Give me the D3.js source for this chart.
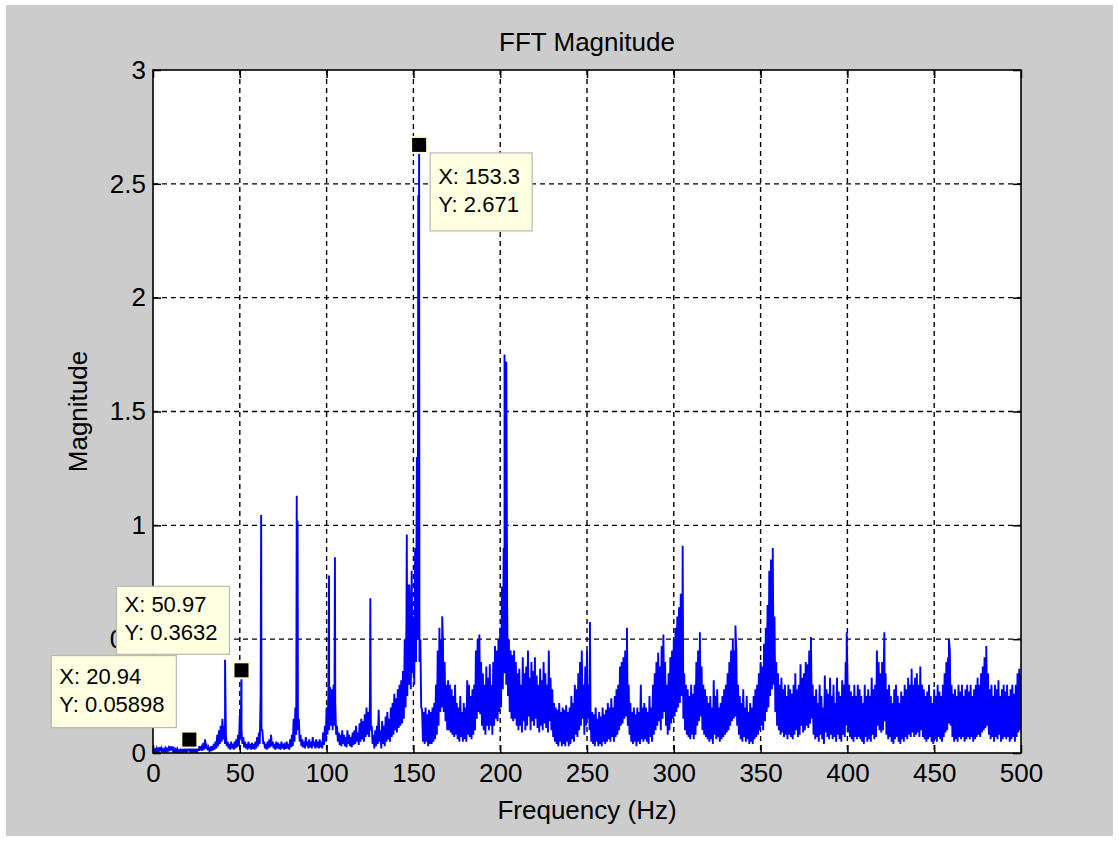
<!DOCTYPE html>
<html>
<head>
<meta charset="utf-8">
<script src="https://cdn.jsdelivr.net/npm/d3@7"></script>
<style>
  html, body { margin: 0; padding: 0; background: #ffffff; }
  text { font-family: Arial, "Liberation Sans", sans-serif; fill: #000; }
</style>
</head>
<body>
<div id="chart"></div>
<script>
var width = 1119, height = 841;

// tick values
var xTicks = [0, 50, 100, 150, 200, 250, 300, 350, 400, 450, 500];
var yTicks = [0, 0.5, 1, 1.5, 2, 2.5, 3];

// upper samples of the spectrum, one per Hz (0..500 Hz)
var magHi = [
  0.02,0.015,0.02,0.018,0.025,0.02,0.015,0.02,0.018,0.022,
  0.03,0.028,0.02,0.015,0.018,0.012,0.015,0.014,0.016,0.02,
  0.018,0.015,0.02,0.018,0.015,0.02,0.022,0.03,0.025,0.045,
  0.06,0.03,0.025,0.02,0.03,0.04,0.05,0.08,0.1,0.12,
  0.15,0.12,0.08,0.05,0.04,0.05,0.04,0.05,0.06,0.08,
  0.17,0.1,0.07,0.05,0.04,0.05,0.04,0.045,0.04,0.05,
  0.07,0.09,0.26,0.1,0.05,0.04,0.05,0.06,0.08,0.05,
  0.04,0.05,0.045,0.04,0.05,0.04,0.045,0.05,0.04,0.06,
  0.08,0.15,0.2,0.25,0.15,0.08,0.06,0.05,0.07,0.05,
  0.06,0.05,0.07,0.05,0.06,0.05,0.06,0.05,0.09,0.12,
  0.2,0.25,0.29,0.28,0.3,0.22,0.12,0.09,0.08,0.1,
  0.08,0.07,0.1,0.08,0.07,0.09,0.1,0.12,0.09,0.13,
  0.15,0.14,0.17,0.2,0.18,0.25,0.12,0.08,0.1,0.12,
  0.19,0.1,0.14,0.12,0.16,0.18,0.15,0.2,0.22,0.26,
  0.24,0.28,0.3,0.32,0.36,0.5,0.6,0.74,0.65,0.8,
  0.6,0.9,1.3,0.9,0.5,0.19,0.18,0.2,0.17,0.19,
  0.18,0.2,0.22,0.3,0.45,0.55,0.5,0.5,0.4,0.3,
  0.32,0.3,0.28,0.25,0.3,0.22,0.2,0.25,0.18,0.22,
  0.2,0.32,0.3,0.25,0.28,0.3,0.45,0.5,0.52,0.4,
  0.35,0.3,0.38,0.33,0.39,0.3,0.4,0.47,0.45,0.5,
  0.55,0.73,0.9,1.0,0.66,0.5,0.45,0.43,0.45,0.4,
  0.35,0.37,0.3,0.42,0.35,0.38,0.45,0.33,0.4,0.36,
  0.42,0.34,0.3,0.37,0.32,0.4,0.35,0.3,0.45,0.33,
  0.28,0.22,0.2,0.19,0.22,0.18,0.2,0.19,0.21,0.18,
  0.2,0.25,0.22,0.3,0.28,0.35,0.4,0.45,0.3,0.38,
  0.45,0.3,0.2,0.18,0.17,0.2,0.15,0.18,0.16,0.2,
  0.17,0.19,0.22,0.2,0.24,0.2,0.25,0.28,0.3,0.38,
  0.4,0.42,0.45,0.4,0.3,0.22,0.18,0.2,0.17,0.2,
  0.18,0.3,0.2,0.22,0.2,0.18,0.25,0.2,0.3,0.35,
  0.4,0.44,0.38,0.47,0.52,0.4,0.3,0.35,0.42,0.45,
  0.5,0.55,0.6,0.64,0.7,0.5,0.35,0.3,0.28,0.25,
  0.3,0.26,0.3,0.4,0.45,0.45,0.38,0.3,0.28,0.25,
  0.22,0.25,0.2,0.32,0.25,0.28,0.2,0.22,0.25,0.28,
  0.3,0.35,0.4,0.45,0.5,0.45,0.45,0.3,0.25,0.22,
  0.28,0.2,0.25,0.18,0.22,0.2,0.25,0.28,0.3,0.35,
  0.4,0.38,0.48,0.55,0.65,0.8,0.85,0.7,0.6,0.4,
  0.35,0.3,0.33,0.28,0.3,0.25,0.3,0.28,0.26,0.3,
  0.35,0.28,0.3,0.39,0.33,0.35,0.4,0.39,0.45,0.4,
  0.3,0.25,0.28,0.22,0.3,0.25,0.2,0.34,0.28,0.26,
  0.33,0.25,0.3,0.22,0.33,0.27,0.25,0.32,0.3,0.4,
  0.35,0.3,0.27,0.25,0.3,0.25,0.3,0.28,0.25,0.22,
  0.3,0.25,0.28,0.25,0.33,0.28,0.3,0.45,0.4,0.35,
  0.4,0.4,0.35,0.28,0.3,0.25,0.22,0.28,0.3,0.25,
  0.22,0.27,0.25,0.3,0.28,0.33,0.3,0.37,0.3,0.33,
  0.35,0.3,0.38,0.3,0.28,0.25,0.27,0.3,0.25,0.22,
  0.28,0.25,0.3,0.27,0.25,0.3,0.35,0.4,0.42,0.45,
  0.3,0.26,0.28,0.25,0.3,0.27,0.3,0.25,0.28,0.3,
  0.27,0.3,0.25,0.28,0.3,0.33,0.3,0.35,0.38,0.42,
  0.4,0.35,0.28,0.3,0.25,0.3,0.28,0.32,0.25,0.28,
  0.3,0.27,0.3,0.25,0.28,0.3,0.26,0.3,0.35,0.37,
  0.34
];

// lower samples, one per Hz, taken half a Hz after magHi
var magLo = [
  0.005,0.008,0.006,0.01,0.007,0.005,0.008,0.006,0.01,0.008,
  0.012,0.01,0.006,0.005,0.007,0.004,0.006,0.005,0.007,0.006,
  0.008,0.006,0.005,0.007,0.006,0.008,0.01,0.012,0.01,0.015,
  0.02,0.012,0.01,0.008,0.012,0.015,0.02,0.03,0.04,0.05,
  0.06,0.04,0.03,0.02,0.015,0.02,0.015,0.02,0.025,0.03,
  0.06,0.04,0.025,0.02,0.015,0.02,0.015,0.018,0.015,0.02,
  0.03,0.04,0.1,0.04,0.02,0.015,0.02,0.025,0.03,0.02,
  0.015,0.02,0.018,0.015,0.02,0.015,0.018,0.02,0.015,0.025,
  0.03,0.05,0.08,0.1,0.05,0.03,0.025,0.02,0.03,0.02,
  0.025,0.02,0.03,0.02,0.025,0.02,0.025,0.02,0.035,0.05,
  0.08,0.1,0.12,0.1,0.12,0.08,0.05,0.035,0.03,0.04,
  0.03,0.025,0.04,0.03,0.025,0.035,0.04,0.05,0.035,0.05,
  0.06,0.05,0.07,0.08,0.07,0.1,0.04,0.02,0.03,0.04,
  0.05,0.02,0.04,0.03,0.05,0.06,0.05,0.07,0.08,0.1,
  0.09,0.11,0.12,0.13,0.15,0.2,0.25,0.3,0.28,0.35,
  0.3,0.4,0.5,0.4,0.2,0.05,0.04,0.05,0.03,0.04,
  0.04,0.05,0.06,0.08,0.12,0.18,0.2,0.18,0.14,0.1,
  0.1,0.09,0.08,0.07,0.08,0.06,0.05,0.07,0.05,0.06,
  0.05,0.08,0.07,0.06,0.08,0.1,0.15,0.18,0.17,0.12,
  0.1,0.08,0.12,0.1,0.12,0.08,0.12,0.15,0.14,0.18,
  0.2,0.28,0.35,0.3,0.25,0.18,0.15,0.14,0.15,0.12,
  0.1,0.12,0.09,0.14,0.1,0.12,0.16,0.1,0.14,0.12,
  0.15,0.11,0.09,0.12,0.1,0.13,0.11,0.09,0.14,0.1,
  0.07,0.05,0.04,0.03,0.05,0.03,0.04,0.03,0.05,0.03,
  0.04,0.06,0.05,0.08,0.07,0.1,0.12,0.15,0.08,0.12,
  0.15,0.1,0.05,0.04,0.03,0.05,0.03,0.04,0.03,0.05,
  0.04,0.05,0.06,0.05,0.07,0.05,0.07,0.08,0.1,0.12,
  0.13,0.15,0.16,0.12,0.08,0.05,0.04,0.05,0.03,0.05,
  0.04,0.06,0.05,0.06,0.05,0.04,0.07,0.05,0.08,0.1,
  0.12,0.14,0.1,0.15,0.18,0.12,0.08,0.1,0.13,0.15,
  0.16,0.18,0.2,0.22,0.25,0.15,0.1,0.08,0.07,0.06,
  0.08,0.06,0.08,0.12,0.14,0.16,0.1,0.08,0.07,0.06,
  0.05,0.06,0.04,0.08,0.06,0.07,0.05,0.06,0.07,0.08,
  0.09,0.1,0.12,0.14,0.15,0.16,0.12,0.08,0.06,0.05,
  0.07,0.05,0.06,0.04,0.05,0.04,0.06,0.07,0.08,0.1,
  0.12,0.1,0.14,0.18,0.2,0.25,0.28,0.3,0.18,0.12,
  0.1,0.08,0.09,0.07,0.08,0.06,0.08,0.07,0.06,0.08,
  0.1,0.07,0.08,0.12,0.09,0.1,0.12,0.11,0.13,0.15,
  0.08,0.06,0.07,0.05,0.08,0.06,0.04,0.09,0.07,0.06,
  0.08,0.06,0.07,0.05,0.08,0.06,0.05,0.08,0.07,0.12,
  0.09,0.07,0.06,0.05,0.07,0.06,0.07,0.06,0.05,0.04,
  0.07,0.05,0.06,0.05,0.08,0.06,0.07,0.12,0.1,0.09,
  0.1,0.14,0.08,0.06,0.07,0.05,0.04,0.06,0.07,0.05,
  0.04,0.06,0.05,0.07,0.06,0.08,0.07,0.09,0.07,0.08,
  0.09,0.07,0.1,0.07,0.06,0.05,0.06,0.07,0.05,0.04,
  0.06,0.05,0.07,0.06,0.05,0.07,0.09,0.1,0.13,0.12,
  0.07,0.05,0.06,0.05,0.07,0.06,0.07,0.05,0.06,0.07,
  0.06,0.07,0.05,0.06,0.07,0.08,0.07,0.09,0.1,0.11,
  0.12,0.08,0.06,0.07,0.05,0.07,0.06,0.08,0.05,0.06,
  0.07,0.06,0.07,0.05,0.06,0.07,0.05,0.07,0.09,0.1
];

// narrow spectral lines [frequency, magnitude]
var spikes = [
  [20.94, 0.05898], [41.5, 0.41], [50.97, 0.3632], [62.3, 1.045],
  [82.8, 1.13], [83.3, 1.02], [101.4, 0.78], [104.8, 0.86],
  [125.2, 0.68], [146.2, 0.96], [147.6, 0.74], [152.8, 2.45],
  [153.3, 2.671], [166.6, 0.6], [202.5, 1.75], [203.5, 1.72],
  [251.7, 0.575], [273, 0.55], [305.1, 0.91], [315, 0.53],
  [335.5, 0.56], [357, 0.9], [379, 0.51], [399.6, 0.53],
  [421.3, 0.53], [458.5, 0.5], [480, 0.47]
];

// data tips shown on the figure
var tipX = [153.3, 50.97, 20.94];
var tipY = [2.671, 0.3632, 0.05898];
var tipLabelX = ["153.3", "50.97", "20.94"];
var tipLabelY = ["2.671", "0.3632", "0.05898"];

var margin = {left: 153, top: 70, right: 1021, bottom: 753};

var x = d3.scaleLinear().domain([0, 500]).range([margin.left, margin.right]);
var y = d3.scaleLinear().domain([0, 3]).range([margin.bottom, margin.top]);

var series = [];
magHi.forEach(function(v, i) { series.push([i, v]); });
magLo.forEach(function(v, i) { series.push([i + 0.5, v]); });
spikes.forEach(function(d) { series.push(d); });
series.sort(function(a, b) { return a[0] - b[0]; });

var svg = d3.select("#chart").append("svg")
  .attr("width", width)
  .attr("height", height);

svg.append("rect")
  .attr("x", 6).attr("y", 5)
  .attr("width", 1107).attr("height", 831)
  .attr("fill", "#cccccc");

svg.append("rect")
  .attr("x", margin.left).attr("y", margin.top)
  .attr("width", margin.right - margin.left)
  .attr("height", margin.bottom - margin.top)
  .attr("fill", "#ffffff");

svg.append("clipPath").attr("id", "plotclip")
  .append("rect")
  .attr("x", margin.left).attr("y", margin.top)
  .attr("width", margin.right - margin.left)
  .attr("height", margin.bottom - margin.top);

// grid
var grid = svg.append("g");
grid.selectAll(".gx")
  .data(xTicks.slice(1, -1))
  .enter().append("line")
  .attr("x1", function(d) { return x(d); })
  .attr("x2", function(d) { return x(d); })
  .attr("y1", margin.top).attr("y2", margin.bottom)
  .attr("stroke", "#000").attr("stroke-width", 1.4)
  .attr("stroke-dasharray", "5,4");
grid.selectAll(".gy")
  .data(yTicks.slice(1, -1))
  .enter().append("line")
  .attr("y1", function(d) { return y(d); })
  .attr("y2", function(d) { return y(d); })
  .attr("x1", margin.left).attr("x2", margin.right)
  .attr("stroke", "#000").attr("stroke-width", 1.4)
  .attr("stroke-dasharray", "5,4");

// spectrum
var line = d3.line()
  .x(function(d) { return x(d[0]); })
  .y(function(d) { return y(d[1]); });

svg.append("path")
  .datum(series)
  .attr("clip-path", "url(#plotclip)")
  .attr("d", line)
  .attr("fill", "none")
  .attr("stroke", "#0000ff")
  .attr("stroke-width", 1.9)
  .attr("stroke-linejoin", "miter");

// axes, ticks pointing inward on all four sides
var tickLen = 8;
var fontSize = "26px";
var fontFam = "Arial, 'Liberation Sans', sans-serif";

svg.append("g")
  .attr("transform", "translate(0," + margin.bottom + ")")
  .call(d3.axisBottom(x).tickValues(xTicks).tickSizeInner(-tickLen).tickSizeOuter(0).tickPadding(11))
  .call(function(g) {
    g.select(".domain").remove();
    g.selectAll("line").attr("stroke", "#000").attr("stroke-width", 1.5);
    g.selectAll("text").attr("font-size", fontSize).attr("font-family", fontFam);
  });

svg.append("g")
  .attr("transform", "translate(0," + margin.top + ")")
  .call(d3.axisTop(x).tickValues(xTicks).tickSizeInner(-tickLen).tickSizeOuter(0).tickFormat(""))
  .call(function(g) {
    g.select(".domain").remove();
    g.selectAll("line").attr("stroke", "#000").attr("stroke-width", 1.5);
  });

svg.append("g")
  .attr("transform", "translate(" + margin.left + ",0)")
  .call(d3.axisLeft(y).tickValues(yTicks).tickSizeInner(-tickLen).tickSizeOuter(0).tickPadding(7).tickFormat(d3.format("")))
  .call(function(g) {
    g.select(".domain").remove();
    g.selectAll("line").attr("stroke", "#000").attr("stroke-width", 1.5);
    g.selectAll("text").attr("font-size", fontSize).attr("font-family", fontFam);
  });

svg.append("g")
  .attr("transform", "translate(" + margin.right + ",0)")
  .call(d3.axisRight(y).tickValues(yTicks).tickSizeInner(-tickLen).tickSizeOuter(0).tickFormat(""))
  .call(function(g) {
    g.select(".domain").remove();
    g.selectAll("line").attr("stroke", "#000").attr("stroke-width", 1.5);
  });

svg.append("rect")
  .attr("x", margin.left).attr("y", margin.top)
  .attr("width", margin.right - margin.left)
  .attr("height", margin.bottom - margin.top)
  .attr("fill", "none")
  .attr("stroke", "#000")
  .attr("stroke-width", 1.6);

// titles
svg.append("text")
  .attr("x", (margin.left + margin.right) / 2)
  .attr("y", 51)
  .attr("text-anchor", "middle")
  .attr("font-size", fontSize)
  .text("FFT Magnitude");

svg.append("text")
  .attr("x", (margin.left + margin.right) / 2)
  .attr("y", 819)
  .attr("text-anchor", "middle")
  .attr("font-size", fontSize)
  .text("Frequency (Hz)");

svg.append("text")
  .attr("transform", "translate(87," + ((margin.top + margin.bottom) / 2) + ") rotate(-90)")
  .attr("text-anchor", "middle")
  .attr("font-size", fontSize)
  .text("Magnitude");

// data tip markers
svg.selectAll(".marker")
  .data(tipX)
  .enter().append("rect")
  .attr("x", function(d) { return x(d) - 8; })
  .attr("y", function(d, i) { return y(tipY[i]) - 8; })
  .attr("width", 16).attr("height", 16)
  .attr("fill", "#000")
  .attr("stroke", "#fffbd8")
  .attr("stroke-width", 2);

// data tip boxes (placed beside their markers)
var tipBox = [
  {dx: 11, dy: 8, w: 102, h: 78},
  {dx: -125, dy: -84, w: 113, h: 68},
  {dx: -138, dy: -84, w: 125, h: 72}
];

var tips = svg.selectAll(".tip")
  .data(tipX)
  .enter().append("g")
  .attr("transform", function(d, i) {
    return "translate(" + (x(d) + tipBox[i].dx) + "," + (y(tipY[i]) + tipBox[i].dy) + ")";
  });

tips.append("rect")
  .attr("width", function(d, i) { return tipBox[i].w; })
  .attr("height", function(d, i) { return tipBox[i].h; })
  .attr("fill", "#ffffe1")
  .attr("stroke", "#b9b9b0")
  .attr("stroke-width", 1.2);

tips.append("text")
  .attr("x", 8)
  .attr("y", function(d, i) { return tipBox[i].h / 2 - 8; })
  .attr("font-size", "22px")
  .text(function(d, i) { return "X: " + tipLabelX[i]; });

tips.append("text")
  .attr("x", 8)
  .attr("y", function(d, i) { return tipBox[i].h / 2 + 20; })
  .attr("font-size", "22px")
  .text(function(d, i) { return "Y: " + tipLabelY[i]; });
</script>
</body>
</html>
